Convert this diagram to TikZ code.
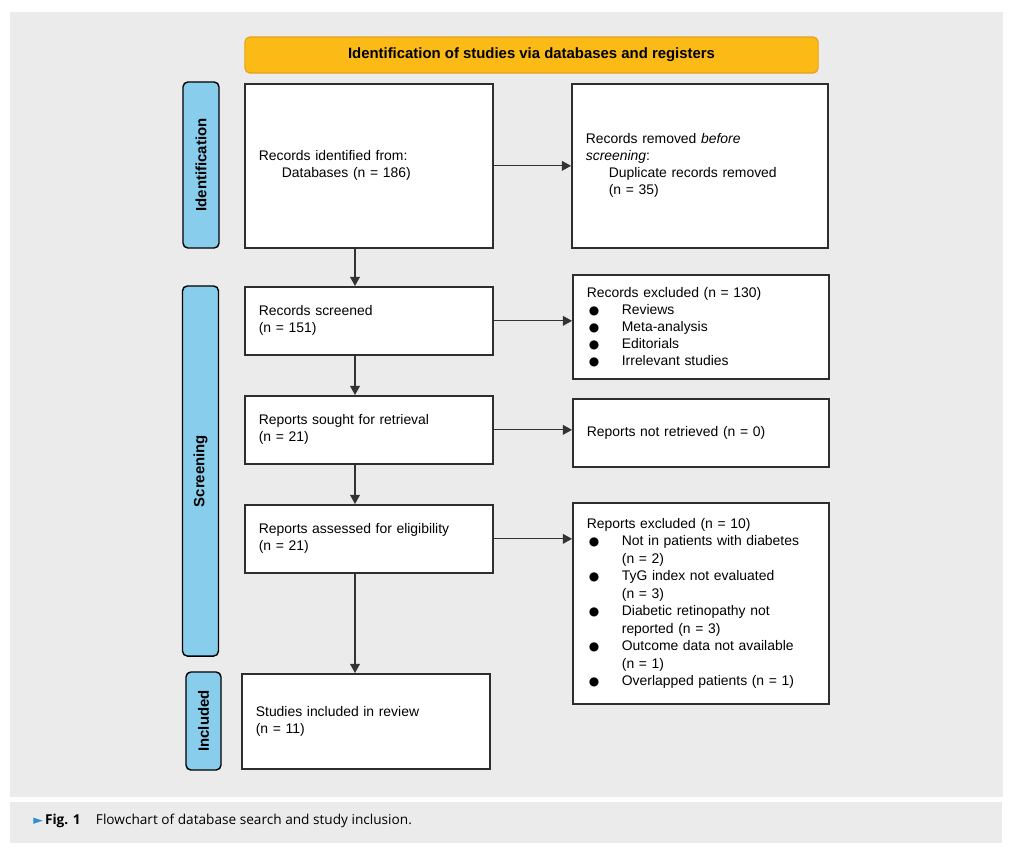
\documentclass[tikz,border=0pt]{standalone}
\usepackage{fontspec}
\setmainfont{Liberation Sans}
\newfontfamily\symfont{DejaVu Sans}
\newfontfamily\capfont{Open Sans}
\usetikzlibrary{arrows.meta}
\definecolor{panelgray}{HTML}{EBEBEC}
\definecolor{bannerorange}{HTML}{FBBA16}
\definecolor{bannerrim}{HTML}{E6A01E}
\definecolor{labelblue}{HTML}{88CDEB}
\definecolor{capblue}{HTML}{2C8FD3}
\definecolor{boxline}{HTML}{2E2E2E}
\definecolor{arrowgray}{HTML}{333333}
\newcommand{\bitem}[1]{\makebox[0.875cm][l]{\hspace*{0.05cm}{\symfont\fontsize{8.5}{9}\selectfont ●}}#1}
\newcommand{\bcont}[1]{\hspace*{0.875cm}#1}
\begin{document}
\begin{tikzpicture}[x=0.025cm, y=-0.025cm,
    box/.style={draw=boxline, line width=1.2pt, fill=white, align=left, inner xsep=0.35cm, inner ysep=0pt, font=\fontsize{9.9}{12.1}\selectfont},
    lbox/.style={box, text width=5.5cm},
    rbox/.style={box, text width=5.7cm},
    phase/.style={draw=black, line width=1pt, fill=labelblue, rounded corners=3.5pt, rotate=90, inner sep=0pt, font=\bfseries\fontsize{10.6}{12}\selectfont},
    arr/.style={-{Triangle[length=6.5pt,width=7pt]}, line width=0.75pt, draw=arrowgray}]

    % Background panels
  \fill[white] (0,0) rectangle (1012,856);
  \fill[panelgray] (10,12) rectangle (1003,797);
  \fill[panelgray] (10,802) rectangle (1002,843);

    % Banner
  \node[draw=bannerrim, fill=bannerorange, rounded corners=3.5pt, line width=0.8pt, minimum width=14.325cm, minimum height=0.9cm, font=\bfseries\fontsize{10.6}{12}\selectfont] (banner) at (531.5,55) {Identification of studies via databases and registers};

    % Phase labels
  \node[phase, minimum width=4.15cm, minimum height=0.9cm] (idlab) at (201,165) {Identification};
  \node[phase, minimum width=9.25cm, minimum height=0.9cm] (scrlab) at (200.5,471) {Screening};
  \node[phase, minimum width=2.45cm, minimum height=0.875cm] (inclab) at (203.5,721) {Included};

    % Left column
  \node[lbox, anchor=north west, minimum height=4.1cm] (ident) at (244,83) {Records identified from:\\ \hspace*{0.575cm}Databases (n = 186)};
  \node[lbox, anchor=north west, minimum height=1.7cm] (screened) at (244,286) {Records screened\\ (n = 151)};
  \node[lbox, anchor=north west, minimum height=1.7cm] (sought) at (244,395) {Reports sought for retrieval\\ (n = 21)};
  \node[lbox, anchor=north west, minimum height=1.7cm] (assessed) at (244,504) {Reports assessed for eligibility\\ (n = 21)};
  \node[lbox, anchor=north west, minimum height=2.375cm] (included) at (241,673) {Studies included in review\\ (n = 11)};

    % Right column
  \node[rbox, anchor=north west, minimum height=4.1cm] (removed) at (571,83) {Records removed \emph{before}\\ \emph{screening}:\\ \hspace*{0.575cm}Duplicate records removed\\ \hspace*{0.575cm}(n = 35)};
  \node[rbox, anchor=north west, minimum height=2.6cm] (excluded) at (572,274) {Records excluded (n = 130)\\ \bitem{Reviews}\\ \bitem{Meta-analysis}\\ \bitem{Editorials}\\ \bitem{Irrelevant studies}};
  \node[rbox, anchor=north west, minimum height=1.7cm] (notret) at (572,398) {Reports not retrieved (n = 0)};
  \node[rbox, anchor=north west, minimum height=5.025cm, font=\fontsize{9.9}{12.4}\selectfont] (repexcl) at (572,502) {Reports excluded (n = 10)\\ \bitem{Not in patients with diabetes}\\ \bcont{(n = 2)}\\ \bitem{TyG index not evaluated}\\ \bcont{(n = 3)}\\ \bitem{Diabetic retinopathy not}\\ \bcont{reported (n = 3)}\\ \bitem{Outcome data not available}\\ \bcont{(n = 1)}\\ \bitem{Overlapped patients (n = 1)}};

    % Arrows down the left column
  \coordinate (spine) at (355,0);
  \draw[arr] (ident.south -| spine) -- (screened.north -| spine);
  \draw[arr] (screened.south -| spine) -- (sought.north -| spine);
  \draw[arr] (sought.south -| spine) -- (assessed.north -| spine);
  \draw[arr] (assessed.south -| spine) -- (included.north -| spine);

    % Arrows to the right column
  \draw[arr] (ident.east) -- (removed.west |- ident.east);
  \draw[arr] (screened.east) -- (excluded.west |- screened.east);
  \draw[arr] (sought.east) -- (notret.west |- sought.east);
  \draw[arr] (assessed.east) -- (repexcl.west |- assessed.east);

    % Caption
  \node[anchor=west, inner sep=0pt, font=\capfont\fontsize{9.7}{11}\selectfont] (caption) at (33,821) {{\symfont\color{capblue}\fontsize{9}{9}\selectfont ►}\hspace{0.05cm}\textbf{Fig. 1}\hspace{0.38cm}Flowchart of database search and study inclusion.};
\end{tikzpicture}
\end{document}
